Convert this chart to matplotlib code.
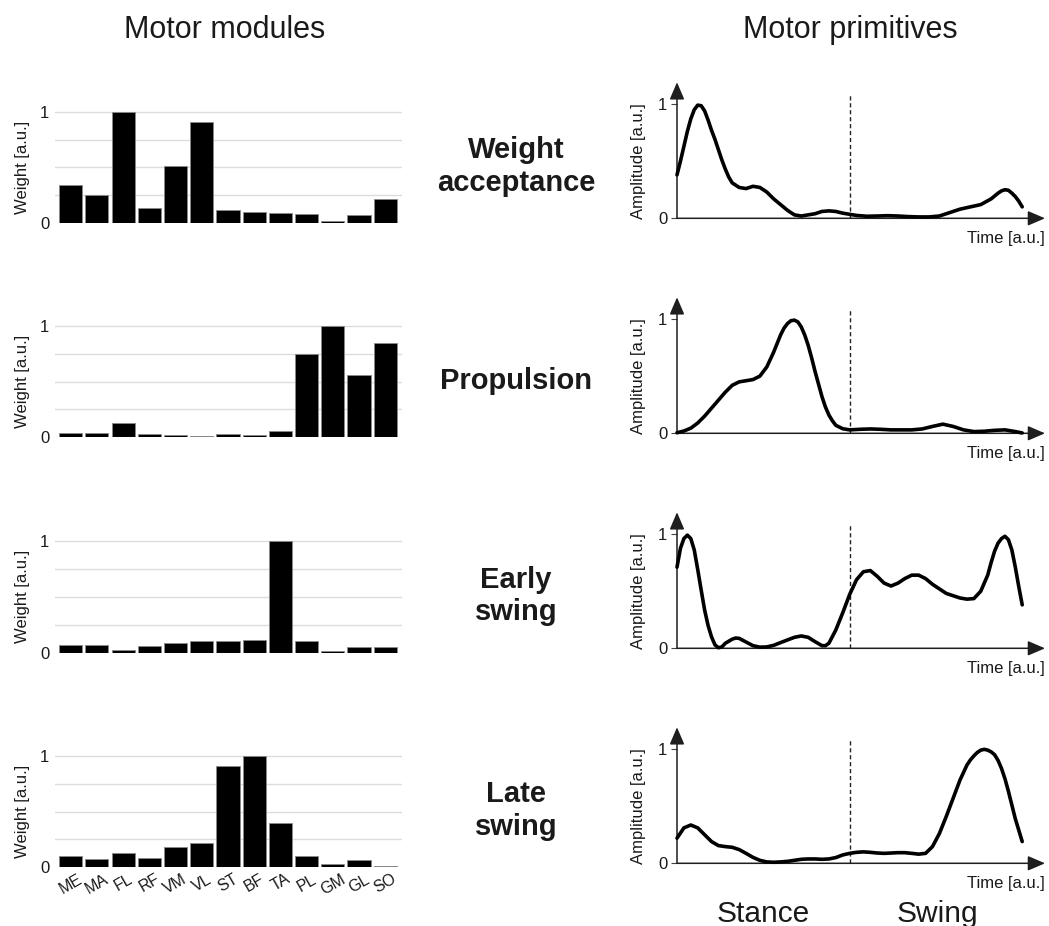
import matplotlib
matplotlib.use("Agg")
import matplotlib.pyplot as plt

plt.rcParams['font.family'] = ['Liberation Sans', 'DejaVu Sans']

# ---------------- data ----------------
muscles = ['ME', 'MA', 'FL', 'RF', 'VM', 'VL', 'ST', 'BF', 'TA', 'PL', 'GM', 'GL', 'SO']
synergy_names = ['Weight\nacceptance', 'Propulsion', 'Early\nswing', 'Late\nswing']

w_acceptance = [0.34, 0.25, 1.0, 0.14, 0.51, 0.91, 0.12, 0.10, 0.095, 0.085, 0.02, 0.07, 0.22]
w_propulsion = [0.035, 0.035, 0.13, 0.03, 0.025, 0.015, 0.027, 0.025, 0.055, 0.75, 1.0, 0.56, 0.85]
w_early = [0.07, 0.07, 0.025, 0.063, 0.09, 0.107, 0.105, 0.116, 1.0, 0.107, 0.018, 0.048, 0.048]
w_late = [0.10, 0.072, 0.125, 0.087, 0.185, 0.215, 0.91, 1.0, 0.40, 0.105, 0.03, 0.063, 0.015]

t_acc = [0, 1, 2, 3, 4, 5, 6, 7, 8, 9, 10, 11, 12, 13, 14, 15, 16, 18, 20, 22, 24, 26, 28, 30, 32,
         34, 36, 38, 40, 42, 44, 46, 48, 50, 52, 55, 58, 61, 64, 67, 70, 73, 76, 79, 82, 85, 88,
         91, 93, 94, 95, 96, 97, 98, 99, 100]
p_acc = [0.38, 0.50, 0.63, 0.76, 0.87, 0.95, 0.99, 0.985, 0.94, 0.86, 0.77, 0.69, 0.60, 0.51, 0.43,
         0.36, 0.31, 0.27, 0.26, 0.28, 0.27, 0.23, 0.17, 0.12, 0.07, 0.03, 0.02, 0.03, 0.04, 0.06,
         0.065, 0.06, 0.045, 0.035, 0.025, 0.018, 0.02, 0.023, 0.02, 0.015, 0.012, 0.012, 0.02,
         0.05, 0.08, 0.10, 0.12, 0.17, 0.22, 0.24, 0.25, 0.245, 0.22, 0.19, 0.15, 0.10]

t_pro = [0, 2, 4, 6, 8, 10, 12, 14, 16, 18, 20, 22, 24, 26, 28, 30, 31, 32, 33, 34, 35, 36, 37, 38,
         39, 40, 41, 42, 43, 44, 45, 46, 48, 50, 53, 56, 59, 62, 65, 68, 71, 74, 77, 80, 83, 86,
         89, 92, 95, 98, 100]
p_pro = [0.005, 0.02, 0.045, 0.09, 0.15, 0.22, 0.29, 0.36, 0.42, 0.45, 0.46, 0.47, 0.50, 0.58, 0.71,
         0.86, 0.92, 0.96, 0.985, 0.99, 0.975, 0.93, 0.86, 0.77, 0.66, 0.54, 0.43, 0.32, 0.23,
         0.16, 0.11, 0.07, 0.04, 0.03, 0.035, 0.038, 0.035, 0.03, 0.03, 0.03, 0.038, 0.06, 0.08,
         0.06, 0.03, 0.015, 0.018, 0.026, 0.03, 0.015, 0.003]

t_early = [0, 1, 2, 3, 4, 5, 6, 7, 8, 9, 10, 11, 12, 13, 14, 16, 17, 18, 20, 22, 24, 26, 28, 30, 32,
           34, 36, 38, 40, 42, 43, 44, 46, 48, 50, 52, 54, 56, 58, 60, 62, 64, 66, 68, 70, 72, 74,
           76, 78, 80, 82, 84, 86, 88, 90, 91, 92, 93, 94, 95, 96, 97, 98, 99, 100]
p_early = [0.71, 0.875, 0.96, 0.99, 0.96, 0.86, 0.69, 0.51, 0.335, 0.20, 0.10, 0.03, 0.005, 0.012,
           0.044, 0.08, 0.09, 0.087, 0.055, 0.023, 0.01, 0.012, 0.026, 0.05, 0.073, 0.096, 0.108,
           0.096, 0.058, 0.023, 0.023, 0.044, 0.16, 0.31, 0.47, 0.60, 0.67, 0.68, 0.63, 0.57,
           0.545, 0.57, 0.61, 0.64, 0.64, 0.61, 0.56, 0.52, 0.48, 0.46, 0.44, 0.43, 0.435, 0.50,
           0.64, 0.75, 0.85, 0.92, 0.96, 0.98, 0.95, 0.86, 0.71, 0.54, 0.38]

t_late = [0, 2, 4, 6, 8, 10, 12, 14, 16, 18, 20, 22, 24, 26, 28, 30, 32, 34, 36, 38, 40, 42, 44, 46,
          48, 50, 52, 54, 56, 58, 60, 62, 64, 66, 68, 70, 72, 74, 76, 78, 80, 82, 84, 85, 86, 87,
          88, 89, 90, 91, 92, 93, 94, 95, 96, 97, 98, 99, 100]
p_late = [0.22, 0.31, 0.335, 0.31, 0.25, 0.19, 0.155, 0.146, 0.14, 0.12, 0.087, 0.052, 0.026, 0.012,
          0.009, 0.012, 0.017, 0.026, 0.035, 0.038, 0.038, 0.035, 0.038, 0.05, 0.073, 0.087, 0.096,
          0.10, 0.096, 0.09, 0.087, 0.09, 0.093, 0.093, 0.087, 0.08, 0.087, 0.146, 0.26, 0.41,
          0.57, 0.73, 0.86, 0.905, 0.94, 0.97, 0.99, 0.997, 0.99, 0.975, 0.95, 0.90, 0.83, 0.74,
          0.63, 0.51, 0.39, 0.29, 0.19]

weights = [w_acceptance, w_propulsion, w_early, w_late]
prim_t = [t_acc, t_pro, t_early, t_late]
prim_y = [p_acc, p_pro, p_early, p_late]
stance_end = 50

# ---------------- layout ----------------
W, H = 1049, 926
fig = plt.figure(figsize=(W / 100, H / 100), dpi=100)


def add_px_axes(left, right, bottom, top):
    return fig.add_axes([left / W, 1 - bottom / H, (right - left) / W, (bottom - top) / H])


bar_rows = [(223.3, 111.7), (437.3, 326.0), (652.7, 541.0), (867.3, 755.7)]
line_rows = [(218.3, 104.0), (433.3, 319.0), (648.3, 534.0), (863.3, 749.0)]
TXT = '#1a1a1a'
BAR_TOP = 1.04
LINE_TOP = 1.19
X_MAX = 106.6

for i in range(4):
    # ---- bar chart (motor module) ----
    z, o = bar_rows[i]
    sc = z - o
    ax = add_px_axes(55, 402, z, z - BAR_TOP * sc)
    x = list(range(len(muscles)))
    ax.bar(x, weights[i], width=0.88, color='black', edgecolor='#8a8a8a', linewidth=0.6, zorder=3)
    ax.set_xlim(-0.6, 12.64)
    ax.set_ylim(0, BAR_TOP)
    ax.set_yticks([0, 0.25, 0.5, 0.75, 1.0])
    ax.set_yticklabels(['0', '', '', '', '1'])
    ax.grid(True, axis='y', color='#dcdcdc', linewidth=1.0, zorder=0)
    ax.tick_params(axis='y', length=0, pad=4, labelsize=12, labelcolor=TXT)
    for s in ax.spines.values():
        s.set_visible(False)
    ax.set_ylabel('Weight [a.u.]', fontsize=12, color=TXT)
    ax.yaxis.label.set(va='center', ha='center')
    ax.yaxis.set_label_coords((22.5 - 55) / 347, 0.5 / BAR_TOP)
    if i == 3:
        ax.set_xticks(x)
        ax.set_xticklabels(muscles, rotation=30, ha='center', va='top', fontsize=11.5, color=TXT)
        ax.tick_params(axis='x', length=0, pad=3)
    else:
        ax.set_xticks([])

    # ---- synergy name ----
    fig.text(516 / W, 1 - ((z + o) / 2 - 1) / H, synergy_names[i], ha='center', va='center',
             fontsize=21, fontweight='bold', color=TXT, linespacing=1.2)

    # ---- motor primitive ----
    z2, o2 = line_rows[i]
    sc2 = z2 - o2
    lx = add_px_axes(677, 1045, z2, z2 - LINE_TOP * sc2)
    lx.set_xlim(0, X_MAX)
    lx.set_ylim(0, LINE_TOP)
    for s in lx.spines.values():
        s.set_visible(False)
    for tip in [(1, 0), (0, 1)]:
        lx.annotate('', xy=tip, xytext=(0, 0), xycoords='axes fraction',
                    arrowprops=dict(arrowstyle='-|>,head_length=1.05,head_width=0.45',
                                    color='#1e1e1e', lw=1.1, shrinkA=0, shrinkB=0,
                                    mutation_scale=10))
    lx.vlines(stance_end, 0, 1.085, colors='#222222', linestyles=(0, (3, 2)), linewidth=1.0)
    lx.plot(prim_t[i], prim_y[i], color='black', linewidth=2.6, solid_joinstyle='round',
            solid_capstyle='round', clip_on=False, zorder=4)
    lx.set_xticks([])
    lx.set_yticks([0, 1])
    lx.tick_params(axis='y', length=4, width=0.8, color='#444444', pad=3, labelsize=12,
                   labelcolor=TXT)
    lx.set_ylabel('Amplitude [a.u.]', fontsize=12, color=TXT)
    lx.yaxis.label.set(va='center', ha='center')
    lx.yaxis.set_label_coords((638 - 677) / 368, 0.5 / LINE_TOP)
    lx.text(1.0, -20 / (LINE_TOP * sc2), 'Time [a.u.]', transform=lx.transAxes, ha='right',
            va='center', fontsize=12, color=TXT)

# ---------------- titles ----------------
fig.text(224.5 / W, 1 - 30 / H, 'Motor modules', ha='center', va='center', fontsize=22, color=TXT)
fig.text(850 / W, 1 - 30 / H, 'Motor primitives', ha='center', va='center', fontsize=22, color=TXT)
fig.text(763 / W, 1 - 922 / H, 'Stance', ha='center', va='baseline', fontsize=21.5, color=TXT)
fig.text(937 / W, 1 - 922 / H, 'Swing', ha='center', va='baseline', fontsize=21.5, color=TXT)

fig.savefig('out.png', dpi=100)
